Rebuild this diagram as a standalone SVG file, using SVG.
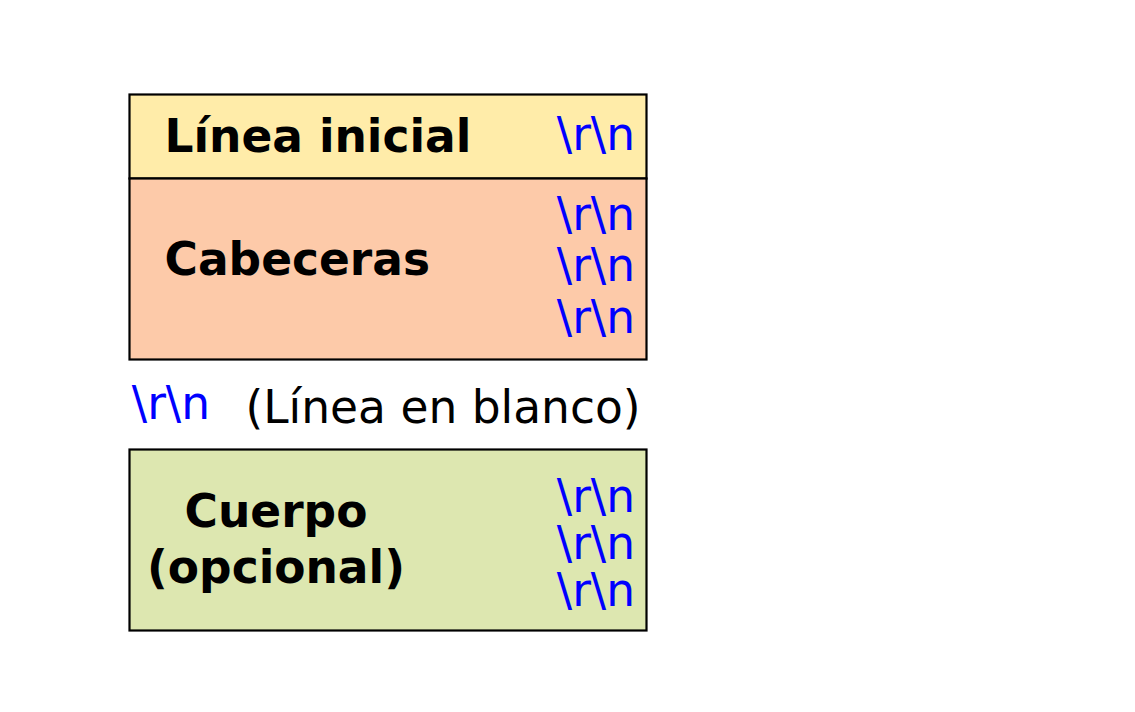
<svg xmlns="http://www.w3.org/2000/svg" width="1135" height="712" viewBox="0 0 1135 712">
<style>
.box{stroke:#000;stroke-width:2.2}
.b{font-family:"DejaVu Sans",sans-serif;font-weight:bold;font-size:45.5px;fill:#000}
.r{font-family:"DejaVu Sans",sans-serif;font-size:45.5px;fill:#000}
.crlf{font-family:"DejaVu Sans",sans-serif;font-size:45.5px;fill:#0000ff;text-anchor:end}
</style>
<rect width="1135" height="712" fill="#fff"/>
<g id="linea-inicial">
<rect class="box" x="129.5" y="94.5" width="517" height="84" fill="#ffeca9"/>
<text class="b" x="164.5" y="152">Línea inicial</text>
<text class="crlf" x="635" y="150">\r\n</text>
</g>
<g id="cabeceras">
<rect class="box" x="129.5" y="178.5" width="517" height="181" fill="#fdcaa9"/>
<text class="b" x="164.5" y="275">Cabeceras</text>
<text class="crlf" x="635" y="230">\r\n</text>
<text class="crlf" x="635" y="281">\r\n</text>
<text class="crlf" x="635" y="333">\r\n</text>
</g>
<g id="linea-blanco">
<text class="crlf" x="210" y="419">\r\n</text>
<text class="r" x="245.5" y="423">(Línea en blanco)</text>
</g>
<g id="cuerpo">
<rect class="box" x="129.5" y="449.5" width="517" height="181" fill="#dde7b0"/>
<text class="b" x="276" y="527" text-anchor="middle">Cuerpo</text>
<text class="b" x="276" y="583" text-anchor="middle">(opcional)</text>
<text class="crlf" x="635" y="512">\r\n</text>
<text class="crlf" x="635" y="559">\r\n</text>
<text class="crlf" x="635" y="606">\r\n</text>
</g>
<g id="connectors"></g>
</svg>
